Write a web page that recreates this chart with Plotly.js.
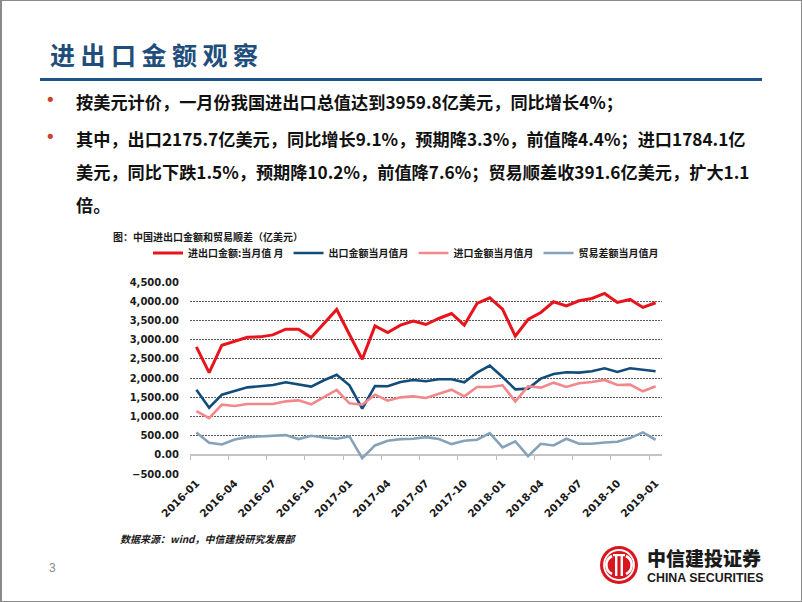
<!DOCTYPE html>
<html>
<head>
<meta charset="utf-8">
<script src="https://cdn.plot.ly/plotly-3.0.1.min.js"></script>
<style>
  html, body { margin:0; padding:0; background:#ffffff; }
  body { width:802px; height:602px; position:relative; overflow:hidden; }
  #frame { position:absolute; left:0; top:0; width:802px; height:602px; box-sizing:border-box;
           border:1px solid #8a8a8a; border-left:2px solid #8a8a8a; z-index:5; pointer-events:none; }
  #chart { position:absolute; left:0; top:0; width:802px; height:602px; z-index:1; }
  .ov { position:absolute; z-index:3; white-space:nowrap; }
  #title { left:50px; top:38px; font-family:"Noto Sans CJK SC"; font-weight:700; font-size:25px;
           letter-spacing:5.5px; color:#1f4e7c; line-height:32px; }
  #rule { position:absolute; left:40px; top:78px; width:722px; height:3px; background:#1b5489; z-index:3; }
  .txt { font-family:"Noto Sans CJK SC"; font-weight:700; font-size:17.2px; color:#111; line-height:24px; }
  .bul { font-family:"DejaVu Sans"; font-size:18px; color:#c9442a; line-height:24px; }
  #ctitle { left:113px; top:229px; font-family:"Noto Sans CJK SC"; font-weight:700; font-size:10px; color:#1a1a1a; line-height:16px; }
  #src { left:120px; top:531px; font-family:"Noto Sans CJK SC"; font-weight:700; font-style:italic; font-size:10px; color:#1a1a1a; line-height:16px; }
  #pg { left:49px; top:561px; font-family:"Liberation Sans"; font-size:12px; color:#8a8a8a; }
  #cn { left:647px; top:548px; font-family:"Noto Sans CJK SC"; font-weight:900; font-size:19px; color:#1a1a1a; line-height:20px; }
  #en { left:647px; top:572px; font-family:"Liberation Sans"; font-weight:700; font-size:12.4px; color:#1a1a1a; line-height:12px; }
</style>
</head>
<body>
<div id="frame"></div>
<div id="chart"></div>

<div class="ov" id="title">进出口金额观察</div>
<div id="rule"></div>

<div class="ov bul" style="left:45px; top:88px;">•</div>
<div class="ov txt" style="left:76px; top:90px;">按美元计价，一月份我国进出口总值达到3959.8亿美元，同比增长4%；</div>
<div class="ov bul" style="left:45px; top:125px;">•</div>
<div class="ov txt" style="left:76px; top:127px;">其中，出口2175.7亿美元，同比增长9.1%，预期降3.3%，前值降4.4%；进口1784.1亿</div>
<div class="ov txt" style="left:76px; top:160px;">美元，同比下跌1.5%，预期降10.2%，前值降7.6%；贸易顺差收391.6亿美元，扩大1.1</div>
<div class="ov txt" style="left:76px; top:193px;">倍。</div>

<div class="ov" id="ctitle">图：中国进出口金额和贸易顺差（亿美元）</div>
<div class="ov" id="src">数据来源：wind，中信建投研究发展部</div>
<div class="ov" id="pg">3</div>

<svg class="ov" style="left:595px; top:541px;" width="48" height="48" viewBox="0 0 48 48">
  <circle cx="24" cy="24" r="19" fill="#d9161e"/>
  <circle cx="24" cy="24" r="15" fill="none" stroke="#ffffff" stroke-width="1.8"/>
  <path d="M17 15 A10 10 0 0 0 17 33" fill="none" stroke="#ffffff" stroke-width="2.6"/>
  <path d="M31 15 A10 10 0 0 1 31 33" fill="none" stroke="#ffffff" stroke-width="2.6"/>
  <rect x="20" y="13" width="2.4" height="22" fill="#ffffff"/>
  <rect x="25.6" y="13" width="2.4" height="22" fill="#ffffff"/>
  <rect x="18" y="13" width="12" height="2.2" fill="#ffffff"/>
</svg>
<div class="ov" id="cn">中信建投证券</div>
<div class="ov" id="en">CHINA SECURITIES</div>

<script>
// ---- data (亿美元), monthly 2016-01 .. 2019-01 ----
const months = [
  "2016-01","2016-02","2016-03","2016-04","2016-05","2016-06","2016-07","2016-08","2016-09","2016-10","2016-11","2016-12",
  "2017-01","2017-02","2017-03","2017-04","2017-05","2017-06","2017-07","2017-08","2017-09","2017-10","2017-11","2017-12",
  "2018-01","2018-02","2018-03","2018-04","2018-05","2018-06","2018-07","2018-08","2018-09","2018-10","2018-11","2018-12",
  "2019-01"
];
const tickLabels = ["2016-01","2016-04","2016-07","2016-10","2017-01","2017-04","2017-07","2017-10",
                    "2018-01","2018-04","2018-07","2018-10","2019-01"];

const totalTrade = [2810,2140,2854,2958,3062,3071,3123,3271,3271,3054,3419,3785,
                    3132,2488,3358,3184,3376,3480,3393,3550,3680,3376,3941,4089,
                    3793,3089,3524,3706,3985,3880,4011,4072,4202,3967,4046,3837,
                    3960];
const exportsVal = [1697,1227,1566,1670,1757,1784,1818,1888,1836,1775,1940,2083,
                    1810,1200,1792,1784,1897,1949,1914,1966,1966,1888,2140,2323,
                    2027,1705,1723,1984,2105,2149,2140,2175,2253,2158,2253,2210,
                    2176];
const importsVal = [1140,957,1305,1270,1322,1322,1322,1392,1418,1314,1505,1688,
                    1340,1305,1566,1409,1496,1522,1479,1592,1697,1522,1766,1766,
                    1810,1392,1784,1749,1879,1766,1862,1897,1949,1818,1827,1653,
                    1784];
const balanceVal = [583,313,270,400,461,478,496,513,409,496,452,418,
                    478,-87,244,365,409,418,461,409,278,365,392,566,
                    191,348,-35,287,244,418,287,287,322,339,435,583,
                    392];

const seriesNames = ["进出口金额:当月值 月","出口金额当月值月","进口金额当月值月","贸易差额当月值月"];
const seriesColors = ["#e8141c","#124c7a","#f3878b","#86a2b9"];

const seriesVals = [totalTrade, exportsVal, importsVal, balanceVal];
const traces = seriesVals.map((vals, k) => ({
  type: "scatter", mode: "lines", x: months, y: vals, name: seriesNames[k],
  line: { color: seriesColors[k], width: k === 0 ? 3 : 2.6 },
  hoverinfo: "skip"
}));
// helper trace so the zero-line tick axis (x2) is drawn
traces.push({
  type: "scatter", mode: "lines", x: months.map((m, i) => i), y: balanceVal,
  xaxis: "x2", yaxis: "y", showlegend: false, hoverinfo: "skip",
  line: { width: 0, color: "rgba(0,0,0,0)" }, opacity: 0
});

const boundaryTicks = tickLabels.map(l => months.indexOf(l) - 0.5);
const boldFont = { family: "DejaVu Sans", size: 10, color: "#1a1a1a", weight: "bold" };

// plotting band: margins 100/100 -> 602px wide area; x axis occupies px 190..662
const W = 802, ML = 100, MR = 100, GW = W - ML - MR;
const xDomain = [(190 - ML) / GW, (662 - ML) / GW];

const layout = {
  width: W, height: 602,
  margin: { l: ML, r: MR, t: 282, b: 128, pad: 0 },
  paper_bgcolor: "rgba(0,0,0,0)", plot_bgcolor: "rgba(0,0,0,0)",
  showlegend: true,
  legend: {
    orientation: "h", xref: "paper", yref: "container",
    x: (148 - ML) / GW, y: 1 - 253 / 602, xanchor: "left", yanchor: "middle",
    font: { family: "Noto Sans CJK SC", size: 10, color: "#1a1a1a", weight: "bold" },
    bgcolor: "rgba(0,0,0,0)", itemwidth: 30, itemclick: false, itemdoubleclick: false
  },
  xaxis: {
    domain: xDomain,
    type: "category", range: [-0.5, months.length - 0.5],
    tickmode: "array", tickvals: tickLabels, ticktext: tickLabels,
    tickangle: -45, tickfont: { family: "DejaVu Sans", size: 10.5, color: "#1a1a1a", weight: "bold" },
    showgrid: false, zeroline: false, showline: false, ticks: "", fixedrange: true
  },
  xaxis2: {
    domain: xDomain,
    type: "linear", overlaying: "x", anchor: "free", position: 0.1, side: "bottom",
    range: [-0.5, months.length - 0.5],
    tickmode: "array", tickvals: boundaryTicks, showticklabels: false,
    ticks: "outside", ticklen: 4, tickwidth: 1, tickcolor: "#bdbdbd",
    showgrid: false, zeroline: false, showline: false, fixedrange: true
  },
  yaxis: {
    range: [-500, 4500], dtick: 500, tick0: 0, tickformat: ",.2f",
    tickfont: boldFont, ticks: "", ticklabelstandoff: 10,
    showgrid: true, gridcolor: "#5a5a5a", gridwidth: 1, griddash: "2px,1px",
    zeroline: true, zerolinecolor: "#c4c4c4", zerolinewidth: 1.5,
    showline: false, fixedrange: true
  }
};

Plotly.newPlot("chart", traces, layout, { displayModeBar: false, staticPlot: true });
</script>
</body>
</html>
